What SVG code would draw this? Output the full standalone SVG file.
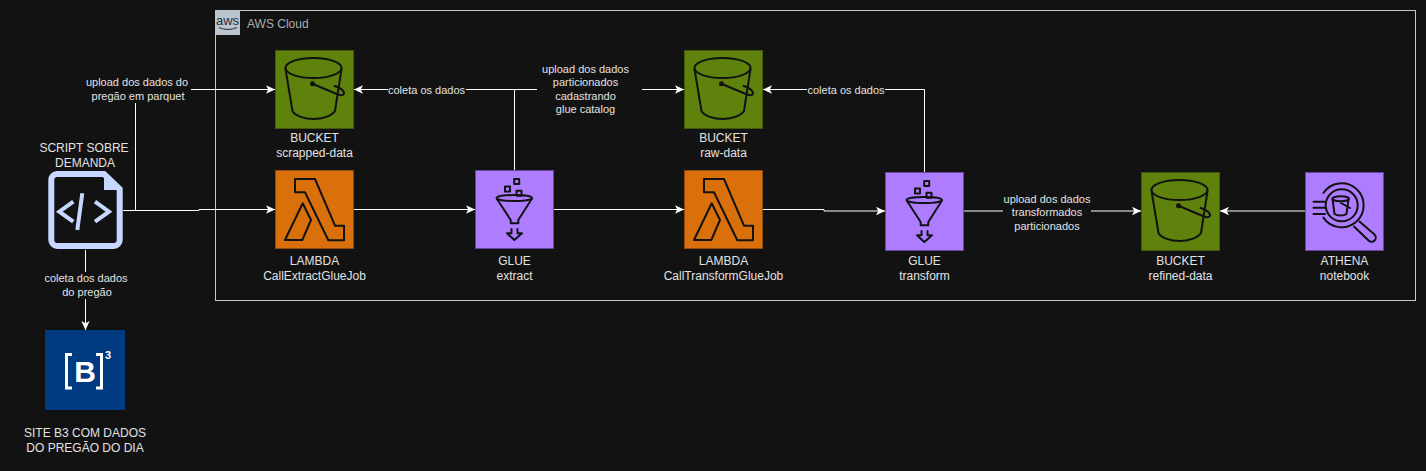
<svg xmlns="http://www.w3.org/2000/svg" width="1426" height="471" viewBox="0 0 1426 471">
<style>
text{font-family:"Liberation Sans",Arial,sans-serif;text-anchor:middle;fill:#e2e2e2}
.n{font-size:12px}
.e{font-size:11px}
.c{fill:none;stroke:#fff;stroke-width:1;marker-end:url(#a)}
.lb{fill:#121212}
.i{fill:none;stroke:#121212;stroke-width:2;stroke-linejoin:round;stroke-linecap:round}
.s3{fill:#5e820b;stroke:#43590a}
.lam{fill:#d9700c;stroke:#8f4a08}
.pur{fill:#ad7cff;stroke:#65469e}
</style>
<defs>
<marker id="a" markerUnits="userSpaceOnUse" markerWidth="9" markerHeight="9" viewBox="0 0 8 8" refX="8" refY="4" orient="auto"><path d="M8 4L0 .3 2 4 0 7.7z" fill="#fff"/></marker>
<g id="bucket"><rect class="s3" x=".5" y=".5" width="78" height="78"/><g class="i">
<ellipse cx="38.500" cy="18" rx="28" ry="10"/><path d="M10.500 19L17.500 61C20 66 30 69 38.500 69S57 66 60 61L66.500 19"/>
<path d="M38 34L63 44.500C68 46.500 70 44 68.500 41.500C66.500 38.500 63 37 59.500 36"/></g><circle cx="37.500" cy="33.700" r="2.500" fill="#121212"/></g>
<g id="lambda"><rect class="lam" x=".5" y=".5" width="78" height="78"/><path class="i" d="M20 9H40L60 55.700H69V70.300H53.300L30 22.300H20zM27.700 33.300L36 50 27.300 70H10z"/></g>
<g id="glue"><rect class="pur" x=".5" y=".5" width="78" height="78"/><g class="i"><ellipse cx="39.300" cy="28" rx="17.700" ry="3"/><path d="M22 29L35.700 50V53.300H43.300V50L56.700 29"/>
<rect x="39.200" y="9" width="5" height="5"/><rect x="30" y="16.400" width="5" height="5"/><rect x="41.500" y="20.700" width="5" height="5"/><path d="M36.500 59V63.300H32L39.300 70 47 63.300H42.500V59"/></g></g>
</defs>
<rect width="1426" height="471" fill="#121212"/>
<g id="aws-cloud"><rect x="215.500" y="10.500" width="1200" height="290" fill="none" stroke="#c3c9cf"/><rect x="215" y="10" width="25" height="25" fill="#bcc5cd"/>
<text x="227.500" y="25" style="font-size:13px;fill:#232f3e">aws</text><path d="M219 27.500Q228 31.500 237 27.500" fill="none" stroke="#232f3e"/>
<text x="247" y="28" class="n" style="text-anchor:start;fill:#a9aeb3">AWS Cloud</text></g>
<g id="connectors">
<path class="c" d="M123 210.500H199V209.500H275"/>
<path class="c" d="M135.500 210V89.500H275"/>
<path class="c" d="M85.500 250V330"/>
<path class="c" d="M514.500 170V89.500H354"/>
<path class="c" d="M514.500 89.500H684"/>
<path class="c" d="M353 209.500H475"/>
<path class="c" d="M553 209.500H684"/>
<path class="c" d="M763 209.500H824V211H885"/>
<path class="c" d="M924.500 172V89.500H763"/>
<path class="c" d="M963 211H1141"/>
<path class="c" d="M1305 211H1220"/>
<g id="edge-labels">
<rect class="lb" x="84" y="75" width="107" height="28"/><text class="e" x="137" y="86">upload dos dados do</text><text class="e" x="138" y="100">pregão em parquet</text>
<rect class="lb" x="388" y="83" width="78" height="13"/><text class="e" x="426.500" y="94">coleta os dados</text>
<rect class="lb" x="537" y="62" width="105" height="55"/><text class="e" x="585.500" y="73">upload dos dados</text><text class="e" x="585.500" y="86">particionados</text><text class="e" x="585.500" y="100">cadastrando</text><text class="e" x="585.500" y="113">glue catalog</text>
<rect class="lb" x="807" y="83" width="78" height="13"/><text class="e" x="846" y="94">coleta os dados</text>
<rect class="lb" x="1003" y="191" width="88" height="42"/><text class="e" x="1047" y="203">upload dos dados</text><text class="e" x="1047" y="216">transformados</text><text class="e" x="1047" y="230">particionados</text>
<rect class="lb" x="44" y="272" width="83" height="27"/><text class="e" x="86" y="282">coleta dos dados</text><text class="e" x="87" y="296">do pregão</text>
</g></g>
<g id="script"><path d="M57 174H104L119.700 189V240A6 6 0 0 1 113.700 246H57.300A6 6 0 0 1 51.300 240V180A6 6 0 0 1 57 174Z" fill="#121212" stroke="#c6d8ff" stroke-width="6"/><path d="M104 172L122 188V190H104z" fill="#c6d8ff"/>
<path d="M73.300 201.700L59.300 211.700 73.300 221.700M82.300 193.300L77.300 230M95 201.700L109 211.700 95 221.700" fill="none" stroke="#c6d8ff" stroke-width="4"/>
<text class="n" x="84" y="152">SCRIPT SOBRE</text><text class="n" x="85" y="167">DEMANDA</text></g>
<g id="b3"><rect x="45" y="330" width="80" height="80" fill="#003a80"/><path d="M72 354.500H66.500V388H72M96 354.500H101.500V388H96" fill="none" stroke="#fff" stroke-width="3"/>
<text x="85" y="381.500" style="font-size:30px;font-weight:bold;fill:#fff">B</text><text x="108" y="358.500" style="font-size:11px;font-weight:bold;fill:#fff">3</text>
<text class="n" x="85" y="437">SITE B3 COM DADOS</text><text class="n" x="85" y="452">DO PREGÃO DO DIA</text></g>
<g id="bucket-scrapped"><use href="#bucket" x="275" y="50"/><text class="n" x="314.500" y="142">BUCKET</text><text class="n" x="314.500" y="157">scrapped-data</text></g>
<g id="lambda-extract"><use href="#lambda" x="275" y="170"/><text class="n" x="314.500" y="265">LAMBDA</text><text class="n" x="314.500" y="280">CallExtractGlueJob</text></g>
<g id="glue-extract"><use href="#glue" x="475" y="170"/><text class="n" x="514.500" y="265">GLUE</text><text class="n" x="514.500" y="280">extract</text></g>
<g id="bucket-raw"><use href="#bucket" x="684" y="50"/><text class="n" x="723.500" y="142">BUCKET</text><text class="n" x="723.500" y="157">raw-data</text></g>
<g id="lambda-transform"><use href="#lambda" x="684" y="170"/><text class="n" x="723.500" y="265">LAMBDA</text><text class="n" x="723.500" y="280">CallTransformGlueJob</text></g>
<g id="glue-transform"><use href="#glue" x="885" y="172"/><text class="n" x="924.500" y="265">GLUE</text><text class="n" x="924.500" y="280">transform</text></g>
<g id="bucket-refined"><use href="#bucket" x="1141" y="172"/><text class="n" x="1180.500" y="265">BUCKET</text><text class="n" x="1180.500" y="280">refined-data</text></g>
<g id="athena"><rect class="pur" x="1305.500" y="172.500" width="78" height="78"/><g class="i" transform="translate(1305 172)">
<circle cx="36.700" cy="33.300" r="16"/><path d="M18.400 21A22 22 0 1 1 18.400 45.600"/><path d="M8.500 29.700H20M8.500 35.700H20M8.500 42H20"/><path d="M54.500 49.500L69.500 62.500A4.200 4.200 0 0 1 63.500 68.500L49 54.500"/>
<ellipse cx="35.700" cy="26.700" rx="8.300" ry="2.500"/><path d="M27.500 27L29.500 42C32 44 39 44 41.500 42L43.500 27M36 31L45 36"/></g>
<text class="n" x="1344.500" y="265">ATHENA</text><text class="n" x="1344.500" y="280">notebook</text></g>
</svg>
